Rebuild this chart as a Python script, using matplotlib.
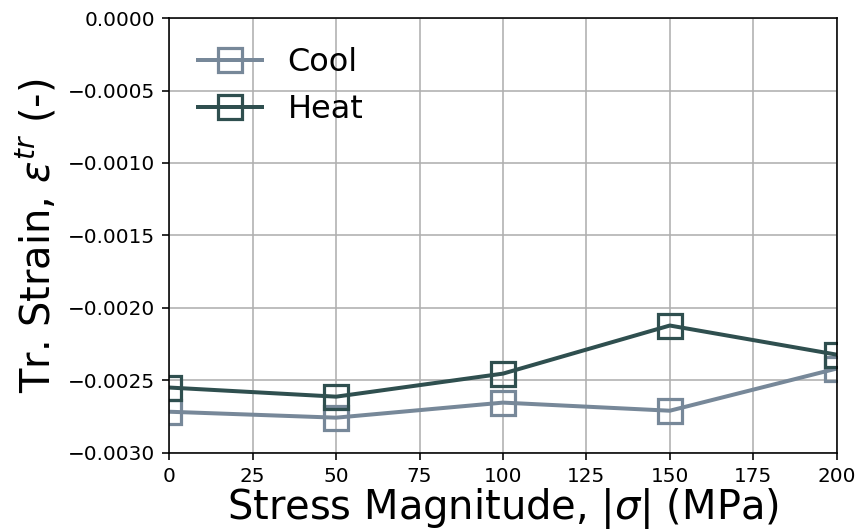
import matplotlib
matplotlib.use('Agg')
import matplotlib.pyplot as plt

# --- Data ---
STRESS = [0, 50, 100, 150, 200]
STRAIN_COOL = [-0.002717, -0.002758, -0.002654, -0.002710, -0.002419]
STRAIN_HEAT = [-0.002550, -0.002613, -0.002454, -0.002122, -0.002323]

COLOR_COOL = '#778899'
COLOR_HEAT = '#2f4f4f'

DPI = 144


def main() -> None:
    fig, ax = plt.subplots(figsize=(859 / DPI, 532 / DPI), dpi=DPI)
    plt.subplots_adjust(left=0.197, right=0.974, top=0.966, bottom=0.149)

    style = dict(marker='s', markersize=12, fillstyle='none',
                 linewidth=2.0, markeredgewidth=1.6)
    ax.plot(STRESS, STRAIN_COOL, color=COLOR_COOL, label='Cool', **style)
    ax.plot(STRESS, STRAIN_HEAT, color=COLOR_HEAT, label='Heat', **style)

    ax.set_xlim(0, 200)
    ax.set_ylim(-0.003, 0.0)
    ax.set_xticks(range(0, 201, 25))
    ax.set_yticks([-0.003, -0.0025, -0.002, -0.0015, -0.001, -0.0005, 0.0])
    ax.grid(True)
    ax.set_axisbelow(True)

    ax.set_xlabel(r"Stress Magnitude, $|\sigma|$ (MPa)", fontsize=20,
                  labelpad=0)
    ax.set_ylabel(r"Tr. Strain, $\varepsilon^{tr}$ (-)", fontsize=20)

    ax.legend(loc='upper left', frameon=False, fontsize=16)

    fig.savefig('out.png', dpi=DPI)


if __name__ == '__main__':
    main()
